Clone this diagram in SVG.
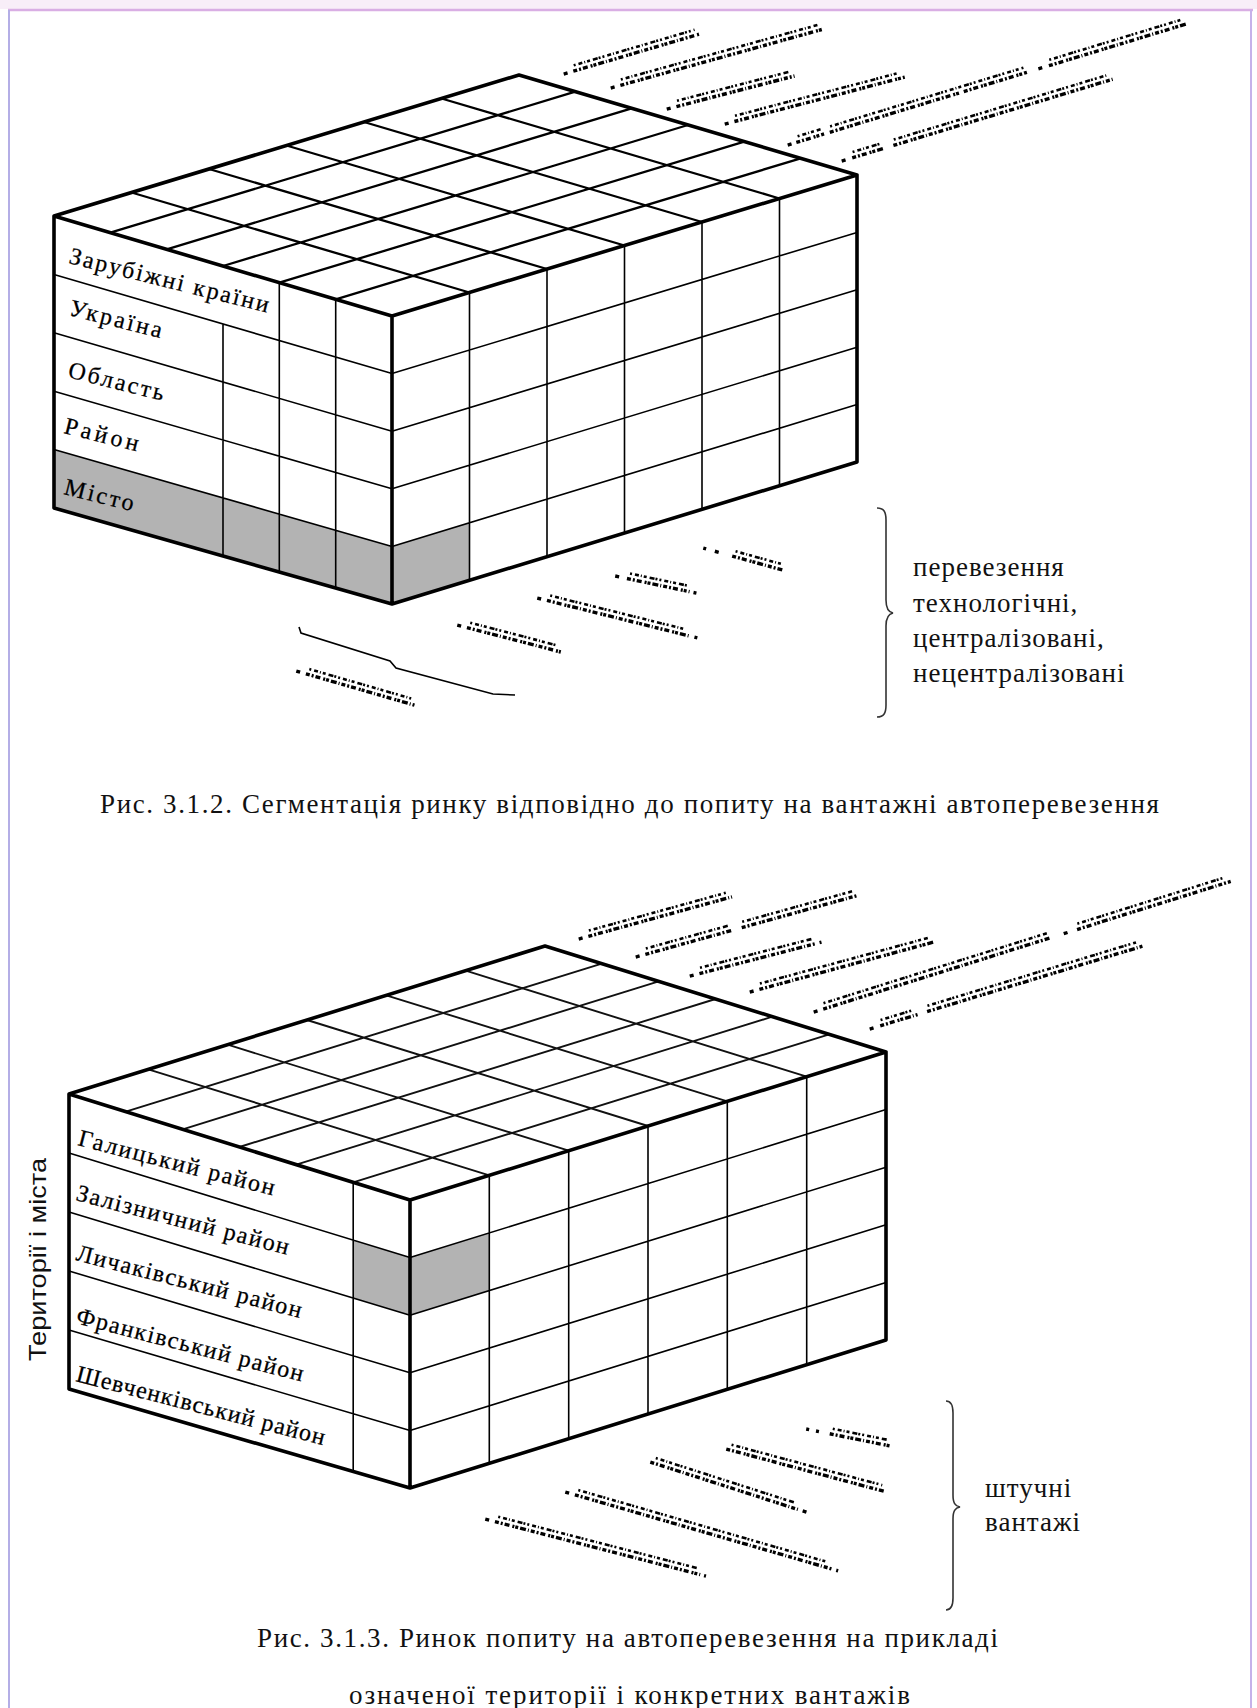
<svg xmlns="http://www.w3.org/2000/svg" width="1257" height="1708" viewBox="0 0 1257 1708">
<defs>
<style>
.edge{fill:none;stroke:#000;stroke-width:3.6;stroke-linejoin:round;stroke-linecap:round}
.grid{fill:none;stroke:#000;stroke-width:2.3}
.grid2{fill:none;stroke:#111;stroke-width:1.9}
.face{fill:none;stroke:#000;stroke-width:1.6}
.grey{fill:#b3b3b3;stroke:none}
.lbl{font-family:'Liberation Serif','Times New Roman',serif;font-size:24px;fill:#000;stroke:#000;stroke-width:0.25}
.cap{font-family:'Liberation Serif','Times New Roman',serif;font-size:27px;fill:#111}
.side{font-family:'Liberation Serif','Times New Roman',serif;font-size:27px;fill:#111;letter-spacing:1px}
.vert{font-family:'Liberation Sans',Arial,sans-serif;font-size:24px;fill:#111}
.gl{fill:none;stroke:#000;stroke-width:3.4;stroke-dasharray:4 2 2 2 5 3 2 1 3 2 6 2 1 2}
.gl2{fill:none;stroke:#000;stroke-width:2.6;stroke-dasharray:2 3 4 2 1 2 3 3 5 1 2 2}
.brace{fill:none;stroke:#333;stroke-width:1.6}
.thin{fill:none;stroke:#000;stroke-width:1.6}
</style>
</defs>
<rect x="0" y="0" width="1257" height="1708" fill="#fff"/>
<g id="frame">
<rect x="0" y="0" width="1257" height="9" fill="#f8eef8"/>
<line x1="8" y1="10" x2="1253" y2="10" stroke="#d9aee4" stroke-width="2.5"/>
<line x1="9" y1="10" x2="9" y2="1708" stroke="#b4aee6" stroke-width="2"/>
<line x1="1251" y1="10" x2="1251" y2="1708" stroke="#c6b2ea" stroke-width="2"/>
</g>

<g id="cube1">
<polygon class="grey" points="54,449.6 392,546.4 392,604 54,508"/>
<polygon class="grey" points="392,546.4 469.5,522.8 469.5,580.3 392,604"/>
<path class="grid" d="M110.3,232.7L575.3,91.7 M166.7,249.3L631.7,108.3 M223,266L688,125 M279.3,282.7L744.3,141.7 M335.7,299.3L800.7,158.3 M131.5,192.5L469.5,292.5 M209,169L547,269 M286.5,145.5L624.5,245.5 M364,122L702,222 M441.5,98.5L779.5,198.5"/>
<path class="face" d="M54,274.4L392,373.6 M54,332.8L392,431.2 M54,391.2L392,488.8 M54,449.6L392,546.4 M223,324L223,556 M279.3,282.7L279.3,572 M335.7,299.3L335.7,588"/>
<path class="face" d="M392,373.6L857,232.4 M392,431.2L857,289.8 M392,488.8L857,347.2 M392,546.4L857,404.6 M469.5,292.5L469.5,580.3 M547,269L547,556.7 M624.5,245.5L624.5,533 M702,222L702,509.3 M779.5,198.5L779.5,485.7"/>
<path class="edge" d="M54,216L519,75L857,175L392,316Z M54,216L54,508L392,604L857,462L857,175 M392,316L392,604"/>
</g>

<g id="cube1-labels" class="lbl">
<text transform="translate(68,263) rotate(14)" textLength="205" lengthAdjust="spacing">Зарубіжні країни</text>
<text transform="translate(68,315) rotate(14)" textLength="95" lengthAdjust="spacing">Україна</text>
<text transform="translate(67,377) rotate(14)" textLength="98" lengthAdjust="spacing">Область</text>
<text transform="translate(63,433) rotate(14)" textLength="76" lengthAdjust="spacing">Район</text>
<text transform="translate(63,494) rotate(14)" textLength="71" lengthAdjust="spacing">Місто</text>
</g>

<g id="cube1-marks">
<g transform="translate(564,75) rotate(-16.4)"><path class="gl" d="M0,-1H4 M10,-1H142"/><path class="gl2" d="M12,-6.5H138"/></g>
<g transform="translate(611,89) rotate(-15.5)"><path class="gl" d="M0,-1H4 M10,-1H221"/><path class="gl2" d="M12,-6.5H216"/></g>
<g transform="translate(667,110) rotate(-14.5)"><path class="gl" d="M0,-1H4 M10,-1H132"/><path class="gl2" d="M12,-6.5H128"/></g>
<g transform="translate(725,125) rotate(-14.6)"><path class="gl" d="M0,-1H4 M10,-1H186"/><path class="gl2" d="M12,-6.5H182"/></g>
<g transform="translate(788,146) rotate(-16.9)"><path class="gl" d="M0,-1H4 M9,-1H38 M44,-1H180 M184,-1H250 M262,-1H267 M273,-1H417"/><path class="gl2" d="M12,-6.5H36 M46,-6.5H248 M275,-6.5H412"/></g>
<g transform="translate(842,162) rotate(-16.8)"><path class="gl" d="M0,-1H5 M11,-1H45 M54,-1H283"/><path class="gl2" d="M13,-6.5H43 M56,-6.5H279"/></g>
<g transform="translate(703,549) rotate(15.5)"><path class="gl" d="M0,-1H3 M12,-1H16 M30,-1H84"/><path class="gl2" d="M32,-6.5H80"/></g>
<g transform="translate(615,577) rotate(11.9)"><path class="gl" d="M0,-1H5 M12,-1H76 M80,-1H83"/><path class="gl2" d="M14,-6.5H74"/></g>
<g transform="translate(537,599) rotate(14)"><path class="gl" d="M0,-1H5 M10,-1H156 M162,-1H165"/><path class="gl2" d="M12,-6.5H150"/></g>
<g transform="translate(457,626) rotate(14.6)"><path class="gl" d="M0,-1H5 M10,-1H107"/><path class="gl2" d="M12,-6.5H102"/></g>
<g transform="translate(296,672) rotate(16.1)"><path class="gl" d="M0,-1H5 M10,-1H123"/><path class="gl2" d="M12,-6.5H118"/></g>
<path class="thin" d="M299,627L301,633L390,661L396,668L493,694L515,695"/>
</g>

<g id="brace1">
<path class="brace" d="M877,508C884,508 886,512 886,520L886,600C886,608 888,612 893,613C888,614 886,618 886,626L886,705C886,713 884,717 877,717"/>
<text class="side" x="913" y="576">перевезення</text>
<text class="side" x="913" y="612">технологічні,</text>
<text class="side" x="913" y="647">централізовані,</text>
<text class="side" x="913" y="682">нецентралізовані</text>
</g>

<text id="caption1" class="cap" x="100" y="813" textLength="1059" lengthAdjust="spacing">Рис. 3.1.2. Сегментація ринку відповідно до попиту на вантажні автоперевезення</text>

<g id="cube2">
<polygon class="grey" points="353.2,1240.2 410,1257.6 410,1315.2 353.2,1298"/>
<polygon class="grey" points="410,1257.6 489.3,1232.9 489.3,1290.5 410,1315.2"/>
<path class="grid2" d="M125.8,1111.7L601.8,963.7 M182.7,1129.3L658.7,981.3 M239.5,1147L715.5,999 M296.3,1164.7L772.3,1016.7 M353.2,1182.3L829.2,1034.3 M148.3,1069.3L489.3,1175.3 M227.7,1044.7L568.7,1150.7 M307,1020L648,1126 M386.3,995.3L727.3,1101.3 M465.7,970.7L806.7,1076.7"/>
<path class="face" d="M69,1153L410,1257.6 M69,1212L410,1315.2 M69,1271L410,1372.8 M69,1330L410,1430.4 M353.2,1182.3L353.2,1471.5"/>
<path class="face" d="M410,1257.6L886,1109.6 M410,1315.2L886,1167.2 M410,1372.8L886,1224.8 M410,1430.4L886,1282.4 M489.3,1175.3L489.3,1463.3 M568.7,1150.7L568.7,1438.7 M648,1126L648,1414 M727.3,1101.3L727.3,1389.3 M806.7,1076.7L806.7,1364.7"/>
<path class="edge" d="M69,1094L545,946L886,1052L410,1200Z M69,1094L69,1389L410,1488L886,1340L886,1052 M410,1200L410,1488"/>
</g>

<g id="cube2-labels" class="lbl" style="white-space:pre">
<text transform="translate(77,1145) rotate(14.5)" textLength="202" lengthAdjust="spacing">Галицький  район</text>
<text transform="translate(75,1200) rotate(14.5)" textLength="219" lengthAdjust="spacing">Залізничний  район</text>
<text transform="translate(75,1260) rotate(14.5)" textLength="232" lengthAdjust="spacing">Личаківський  район</text>
<text transform="translate(75,1323) rotate(14.5)" textLength="234" lengthAdjust="spacing">Франківський  район</text>
<text transform="translate(75,1381) rotate(14.5)" textLength="256" lengthAdjust="spacing">Шевченківський  район</text>
</g>

<text id="axis2" class="vert" transform="translate(46,1361) rotate(-90)" textLength="203" lengthAdjust="spacingAndGlyphs">Території і міста</text>

<g id="cube2-marks">
<g transform="translate(579,940) rotate(-15.4)"><path class="gl" d="M0,-1H4 M10,-1H159"/><path class="gl2" d="M12,-6.5H154"/></g>
<g transform="translate(636,958) rotate(-15.5)"><path class="gl" d="M0,-1H4 M10,-1H100 M110,-1H231"/><path class="gl2" d="M12,-6.5H98 M112,-6.5H226"/></g>
<g transform="translate(690,977) rotate(-14.4)"><path class="gl" d="M0,-1H4 M10,-1H130 M134,-1H136"/><path class="gl2" d="M12,-6.5H128"/></g>
<g transform="translate(750,993) rotate(-15.2)"><path class="gl" d="M0,-1H4 M10,-1H191"/><path class="gl2" d="M12,-6.5H186"/></g>
<g transform="translate(814,1013) rotate(-17.4)"><path class="gl" d="M0,-1H4 M10,-1H250 M262,-1H268 M276,-1H437"/><path class="gl2" d="M12,-6.5H246 M278,-6.5H432"/></g>
<g transform="translate(870,1030) rotate(-16.9)"><path class="gl" d="M0,-1H5 M11,-1H50 M60,-1H285"/><path class="gl2" d="M13,-6.5H48 M62,-6.5H280"/></g>
<g transform="translate(806,1430) rotate(11.4)"><path class="gl" d="M0,-1H3 M10,-1H13 M24,-1H86"/><path class="gl2" d="M26,-6.5H82"/></g>
<g transform="translate(726,1450) rotate(15)"><path class="gl" d="M0,-1H166"/><path class="gl2" d="M4,-6.5H160"/></g>
<g transform="translate(650,1463) rotate(17.8)"><path class="gl" d="M0,-1H155 M160,-1H164"/><path class="gl2" d="M4,-6.5H150"/></g>
<g transform="translate(565,1493) rotate(16.1)"><path class="gl" d="M0,-1H4 M10,-1H278 M282,-1H284"/><path class="gl2" d="M12,-6.5H272"/></g>
<g transform="translate(485,1520) rotate(14.5)"><path class="gl" d="M0,-1H4 M10,-1H222 M226,-1H228"/><path class="gl2" d="M12,-6.5H218"/></g>
</g>

<g id="brace2">
<path class="brace" d="M946,1401C951,1401 953,1405 953,1413L953,1495C953,1503 955,1506 960,1507C955,1508 953,1511 953,1519L953,1598C953,1606 951,1610 946,1610"/>
<text class="side" x="985" y="1497">штучні</text>
<text class="side" x="985" y="1531">вантажі</text>
</g>

<g id="caption2">
<text class="cap" x="257" y="1647" textLength="741" lengthAdjust="spacing">Рис. 3.1.3. Ринок попиту на автоперевезення на прикладі</text>
<text class="cap" x="349" y="1704" textLength="561" lengthAdjust="spacing">означеної території і конкретних вантажів</text>
</g>
</svg>
